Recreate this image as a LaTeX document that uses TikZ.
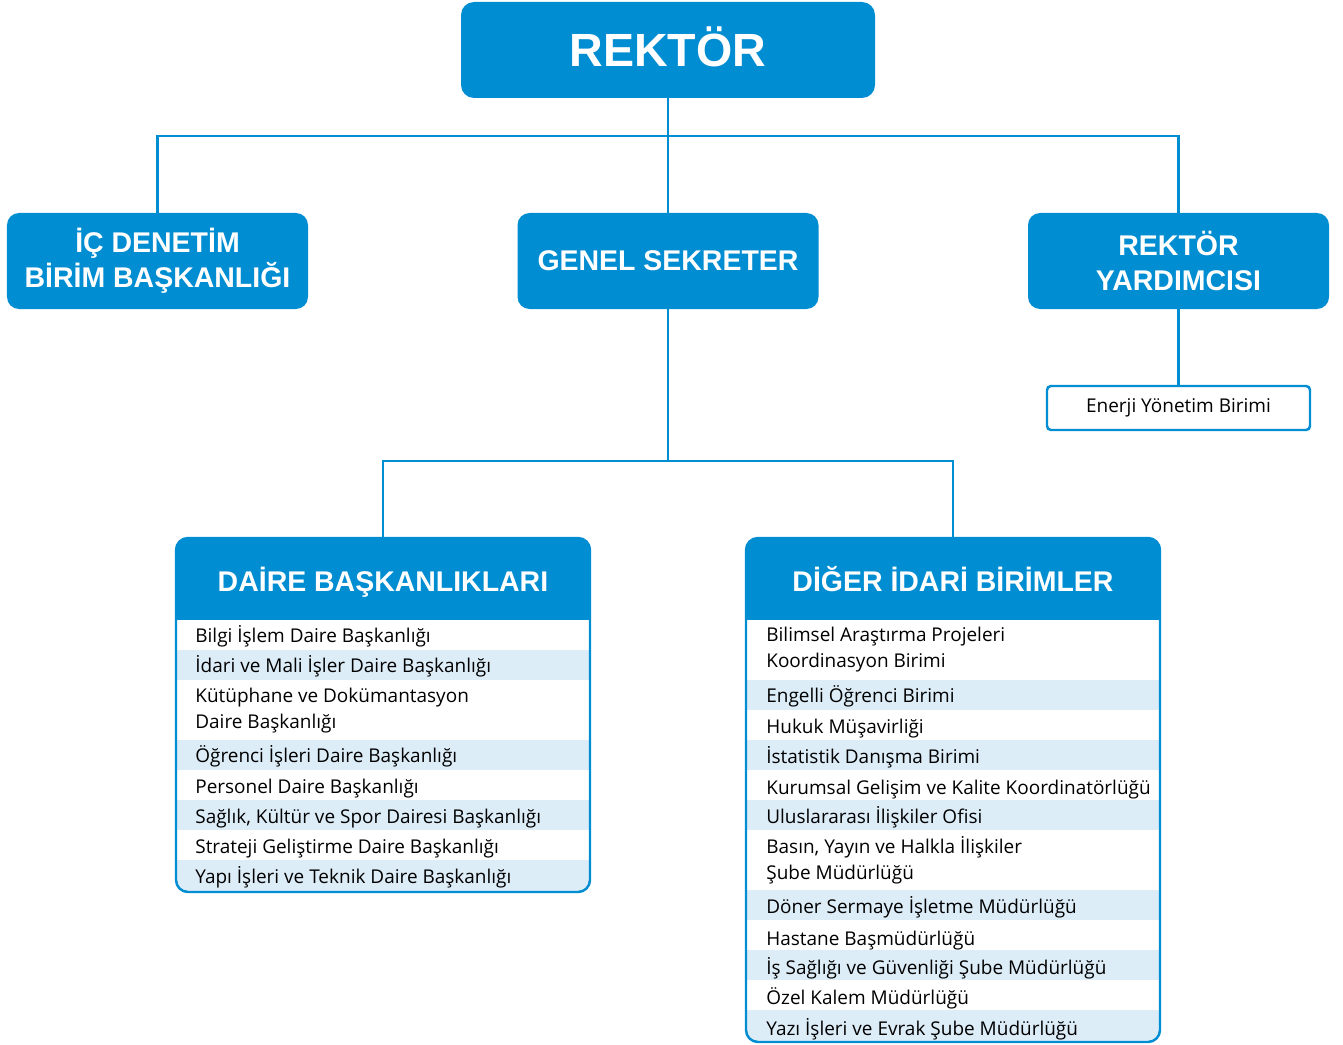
\documentclass[tikz,border=0pt]{standalone}
\usepackage{fontspec}
\setmainfont{Liberation Sans}
\newfontfamily\itemfont{Open Sans}
\usepackage{tikz}
\usetikzlibrary{backgrounds}
\definecolor{orgblue}{RGB}{0,141,210}
\definecolor{rowblue}{RGB}{221,237,248}
\tikzstyle{topbox}=[rectangle, fill=orgblue, text=white, rounded corners=0.26cm, minimum width=8.28cm, minimum height=1.92cm, text height=19pt, text depth=0pt, font=\bfseries\fontsize{26.5}{30}\selectfont]
\tikzstyle{unit}=[rectangle, fill=orgblue, text=white, rounded corners=0.24cm, minimum width=6.02cm, minimum height=1.92cm, align=center, font=\bfseries\fontsize{16.2}{19.9}\selectfont]
\tikzstyle{subunit}=[rectangle, draw=orgblue, line width=1.4pt, fill=white, rounded corners=0.08cm, minimum width=5.26cm, minimum height=0.88cm, font=\itemfont\fontsize{10.8}{14.2}\selectfont]
\tikzstyle{head}=[rectangle, text=white, minimum width=8.28cm, minimum height=1.72cm, text height=11.6pt, text depth=0pt, font=\bfseries\fontsize{16.2}{19.9}\selectfont]
\tikzstyle{item}=[anchor=base west, align=left, inner sep=0pt, font=\itemfont\fontsize{10.8}{14.4}\selectfont]
\tikzstyle{link}=[draw=orgblue, line width=1.5pt]
\tikzstyle{frame}=[draw=orgblue, line width=1.4pt, rounded corners=0.24cm]

\begin{document}
\begin{tikzpicture}
\useasboundingbox (0,0) rectangle (26.86,-20.9);
%Top
\node[topbox] (rek) at (13.36,-1.0){REKTÖR};
%Row Two
\node[unit] (icd) at (3.15,-5.22){İÇ DENETİM\\BİRİM BAŞKANLIĞI};
\node[unit] (gs) at (13.36,-5.22){GENEL SEKRETER};
\node[unit] (ry) at (23.57,-5.22){REKTÖR\\YARDIMCISI};
\node[subunit] (ener) at (23.57,-8.16){Enerji Yönetim Birimi};
%Panel heads
\node[head] (daire) at (7.66,-11.62){DAİRE BAŞKANLIKLARI};
\node[head] (diger) at (19.06,-11.62){DİĞER İDARİ BİRİMLER};
%Left list (base = last line)
\node[item] (d1) at (3.9,-12.84){Bilgi İşlem Daire Başkanlığı};
\node[item] (d2) at (3.9,-13.44){İdari ve Mali İşler Daire Başkanlığı};
\node[item] (d3) at (3.9,-14.56){Kütüphane ve Dokümantasyon\\Daire Başkanlığı};
\node[item] (d4) at (3.9,-15.24){Öğrenci İşleri Daire Başkanlığı};
\node[item] (d5) at (3.9,-15.86){Personel Daire Başkanlığı};
\node[item] (d6) at (3.9,-16.46){Sağlık, Kültür ve Spor Dairesi Başkanlığı};
\node[item] (d7) at (3.9,-17.06){Strateji Geliştirme Daire Başkanlığı};
\node[item] (d8) at (3.9,-17.66){Yapı İşleri ve Teknik Daire Başkanlığı};
%Right list
\node[item] (o1) at (15.32,-13.34){Bilimsel Araştırma Projeleri\\Koordinasyon Birimi};
\node[item] (o2) at (15.32,-14.04){Engelli Öğrenci Birimi};
\node[item] (o3) at (15.32,-14.66){Hukuk Müşavirliği};
\node[item] (o4) at (15.32,-15.26){İstatistik Danışma Birimi};
\node[item] (o5) at (15.32,-15.88){Kurumsal Gelişim ve Kalite Koordinatörlüğü};
\node[item] (o6) at (15.32,-16.46){Uluslararası İlişkiler Ofisi};
\node[item] (o7) at (15.32,-17.58){Basın, Yayın ve Halkla İlişkiler\\Şube Müdürlüğü};
\node[item] (o8) at (15.32,-18.26){Döner Sermaye İşletme Müdürlüğü};
\node[item] (o9) at (15.32,-18.90){Hastane Başmüdürlüğü};
\node[item] (o10) at (15.32,-19.48){İş Sağlığı ve Güvenliği Şube Müdürlüğü};
\node[item] (o11) at (15.32,-20.08){Özel Kalem Müdürlüğü};
\node[item] (o12) at (15.32,-20.70){Yazı İşleri ve Evrak Şube Müdürlüğü};

%Connectors
\coordinate (j1) at (13.36,-2.72);
\coordinate (j2) at (13.36,-9.22);
\draw[link] (rek.south) -- (gs.north);
\draw[link] (icd.north) |- (j1) -| (ry.north);
\draw[link] (ry.south) -- (ener.north);
\draw[link] (gs.south) -- (j2);
\draw[link] (daire.north) |- (j2) -| (diger.north);

%background
\begin{scope}[on background layer]
\begin{scope}
\clip[rounded corners=0.24cm] (3.52,-10.76) rectangle (11.80,-17.84);
\fill[orgblue](3.4,-10.7) rectangle(11.9,-12.4);
\fill[rowblue](3.4,-13.0) rectangle(11.9,-13.6);
\fill[rowblue](3.4,-14.8) rectangle(11.9,-15.4);
\fill[rowblue](3.4,-16.0) rectangle(11.9,-16.6);
\fill[rowblue](3.4,-17.2) rectangle(11.9,-17.9);
\end{scope}
\begin{scope}
\clip[rounded corners=0.24cm] (14.92,-10.76) rectangle (23.20,-20.84);
\fill[orgblue](14.8,-10.7) rectangle(23.3,-12.4);
\fill[rowblue](14.8,-13.6) rectangle(23.3,-14.2);
\fill[rowblue](14.8,-14.8) rectangle(23.3,-15.4);
\fill[rowblue](14.8,-16.0) rectangle(23.3,-16.6);
\fill[rowblue](14.8,-17.8) rectangle(23.3,-18.4);
\fill[rowblue](14.8,-19.0) rectangle(23.3,-19.6);
\fill[rowblue](14.8,-20.2) rectangle(23.3,-20.9);
\end{scope}
\end{scope}

\draw[frame] (3.52,-10.76) rectangle (11.80,-17.84);
\draw[frame] (14.92,-10.76) rectangle (23.20,-20.84);
\end{tikzpicture}
\end{document}
